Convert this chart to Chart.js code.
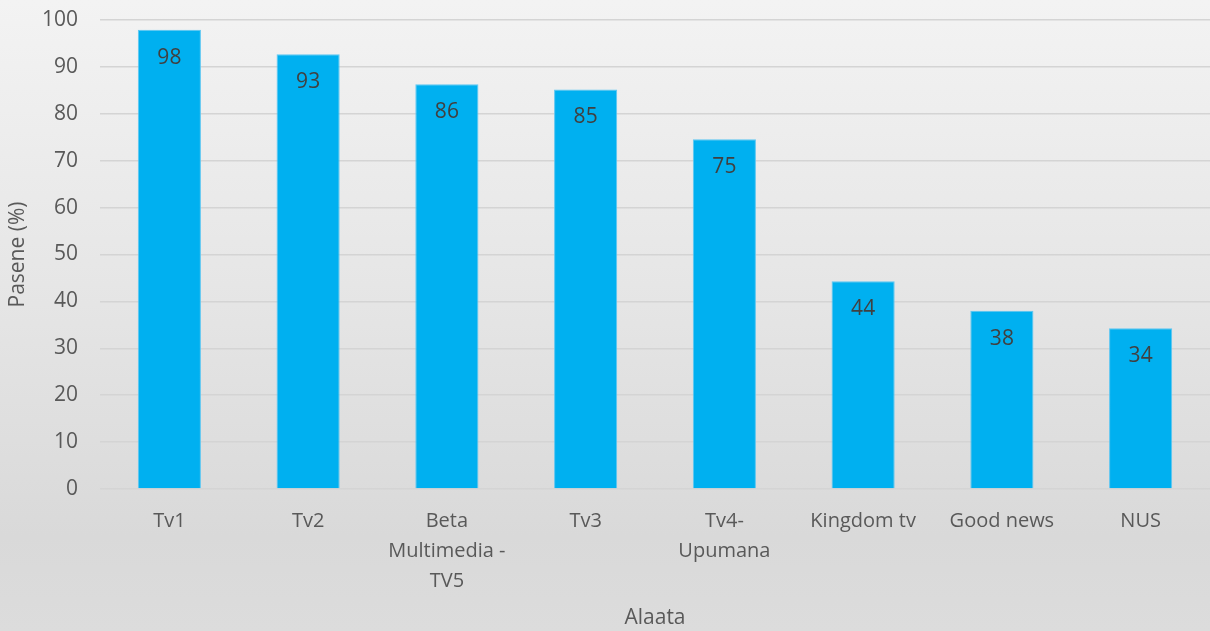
<!DOCTYPE html>
<html>
<head>
<meta charset="utf-8">
<script src="https://cdn.jsdelivr.net/npm/chart.js@4"></script>
<style>
  html, body { margin: 0; padding: 0; }
  body { width: 1210px; height: 631px; overflow: hidden;
    background: linear-gradient(to bottom, #f3f3f3 0%, #e6e6e6 45%, #d9d9d9 85%, #dcdcdc 100%); }
  #wrap { position: relative; width: 1210px; height: 631px; }
</style>
</head>
<body>
<div id="wrap"><canvas id="c" width="1210" height="631"></canvas></div>
<script>
const categories = [["Tv1"], ["Tv2"], ["Beta", "Multimedia -", "TV5"], ["Tv3"], ["Tv4-", "Upumana"], ["Kingdom tv"], ["Good news"], ["NUS"]];
const values = [97.9, 92.7, 86.3, 85.2, 74.6, 44.3, 38.0, 34.3];
const yTicks = [0, 10, 20, 30, 40, 50, 60, 70, 80, 90, 100];
const yTitle = "Pasene (%)";
const xTitle = "Alaata";

const FONT = "'Open Sans', 'Noto Sans', sans-serif";

const labelPlugin = {
  id: 'barLabels',
  afterDatasetsDraw(chart) {
    const ctx = chart.ctx;
    const meta = chart.getDatasetMeta(0);
    ctx.save();
    ctx.font = "21px " + FONT;
    ctx.fillStyle = "#404040";
    ctx.textAlign = "center";
    ctx.textBaseline = "middle";
    meta.data.forEach((bar, i) => {
      ctx.fillText(String(Math.round(values[i])), bar.x, bar.y + 28);
    });
    ctx.restore();
  }
};

new Chart(document.getElementById('c'), {
  type: 'bar',
  data: {
    labels: categories,
    datasets: [{
      data: values,
      backgroundColor: '#00b0f0',
      borderColor: '#5cc6f2',
      borderWidth: 1,
      categoryPercentage: 1,
      barPercentage: 0.455
    }]
  },
  options: {
    responsive: false,
    animation: false,
    devicePixelRatio: 1,
    layout: { padding: { top: 20, right: 0, left: 0, bottom: 0 } },
    plugins: { legend: { display: false }, tooltip: { enabled: false } },
    scales: {
      x: {
        grid: { display: false, drawTicks: false },
        border: { display: false },
        ticks: { color: '#595959', font: { family: FONT, size: 20, lineHeight: 1.5 }, padding: 17, maxRotation: 0, autoSkip: false },
        title: { display: true, text: xTitle, color: '#595959', font: { family: FONT, size: 21 }, padding: { top: 0, bottom: 0 } },
        afterFit(s) { s.height = 142; }
      },
      y: {
        min: 0, max: 100,
        afterBuildTicks(s) { s.ticks = yTicks.map(v => ({ value: v })); },
        grid: { color: '#d4d4d4', lineWidth: 1.5, drawTicks: true, tickLength: 22, tickColor: 'rgba(0,0,0,0)' },
        border: { display: false },
        ticks: { color: '#595959', font: { family: FONT, size: 21, lineHeight: 0.5 }, padding: 0 },
        title: { display: true, text: yTitle, color: '#595959', font: { family: FONT, size: 21 }, padding: { top: 5, bottom: 0 } },
        afterFit(s) { s.width = 100; }
      }
    }
  },
  plugins: [labelPlugin]
});
</script>
</body>
</html>
